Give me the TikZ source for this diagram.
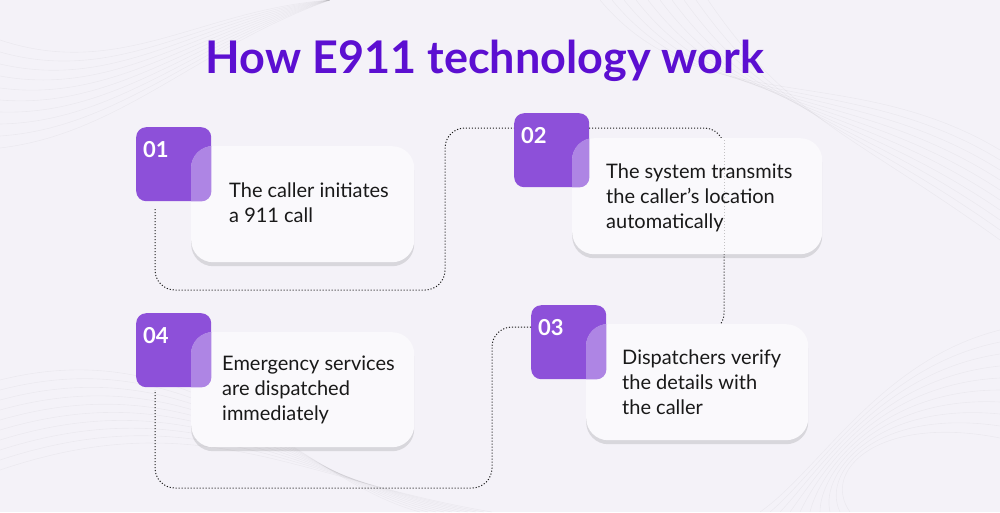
\documentclass[tikz,border=0pt]{standalone}
\usepackage{fontspec}
\setmainfont{Lato}
\usetikzlibrary{shadows,calc}
\definecolor{bg}{HTML}{F4F2F8}
\definecolor{ttl}{HTML}{5C0FD1}
\definecolor{purp}{HTML}{8D50D9}
\definecolor{purpl}{HTML}{AE85E4}
\definecolor{cardc}{HTML}{FAF9FC}
\begin{document}
\begin{tikzpicture}[x=1pt,y=-1pt,
  numbox/.style={fill=purp, rounded corners=10pt, draw=none, minimum width=75pt, minimum height=74pt, anchor=north west, inner sep=0pt},
  cardbox/.style={fill=cardc, rounded corners=22pt, draw=none, anchor=north west, inner sep=0pt,
     drop shadow={shadow xshift=0pt, shadow yshift=-4pt, opacity=0.16, fill=black!70}},
  numtxt/.style={text=white, font=\fontsize{22}{26}\selectfont\bfseries, anchor=base west, inner sep=0pt},
  cardtxt/.style={text=black!90, font=\fontsize{20}{25}\selectfont, align=left, anchor=base west, inner sep=0pt},
  conn/.style={draw=black!90, dash pattern=on 1.1pt off 1.9pt, line width=1pt, rounded corners=20pt},
  bgline/.style={draw=black, opacity=0.035, line width=0.6pt}
]
\fill[bg] (0,0) rectangle (1000,512);
\useasboundingbox (0,0) rectangle (1000,512);
% faint background curves
\foreach \i in {0,...,9}{
  \draw[bgline] (600+\i*12,0) .. controls (700+\i*10,120) and (850,60+\i*8) .. (1000,150+\i*10);
  \draw[bgline] (0,40+\i*12) .. controls (120,80+\i*6) and (200,10+\i*4) .. (330,0);
  \draw[bgline] (0,380+\i*10) .. controls (200,330+\i*8) and (300,480) .. (420+\i*8,512);
  \draw[bgline] (1000,330+\i*12) .. controls (880,360+\i*6) and (820,470) .. (760+\i*10,512);
}
% title
\node[text=ttl, font=\fontsize{45}{50}\selectfont\bfseries, anchor=base, inner sep=0pt] (title) at (485,73) {How E911 technology work};

% number boxes
\node[numbox] (n1) at (136,127) {};
\node[numbox] (n2) at (514,113) {};
\node[numbox] (n3) at (531,305) {};
\node[numbox] (n4) at (136,313) {};

% connector coordinates
\coordinate (s1) at (155,209);
\coordinate (e1) at (514,128);
\coordinate (s2) at (589,128);
\coordinate (e2) at (606,333);
\coordinate (s3) at (531,327);
\coordinate (e3) at (155,390);

\draw[conn] (s1) -- (155,290) -- (445,290) -- (445,128) -- (e1);
\draw[conn] (s2) -- (724,128) -- (724,333) -- (e2);
\draw[conn] (s3) -- (492,327) -- (492,488) -- (155,488) -- (e3);

% cards
\node[cardbox, minimum width=223pt, minimum height=116pt] (c1) at (191,146) {};
\node[cardbox, minimum width=250pt, minimum height=116pt] (c2) at (572,138) {};
\node[cardbox, minimum width=222pt, minimum height=116pt] (c3) at (586,324) {};
\node[cardbox, minimum width=223pt, minimum height=115pt] (c4) at (191,332) {};

% glass overlap
\foreach \c/\n in {c1/n1,c2/n2,c3/n3,c4/n4}{
  \begin{scope}
    \clip[rounded corners=22pt] (\c.north west) rectangle (\c.south east);
    \fill[purpl, rounded corners=10pt] (\n.north west) rectangle (\n.south east);
  \end{scope}
}
% faint line seen through card 2
\begin{scope}
  \clip[rounded corners=22pt] (c2.north west) rectangle (c2.south east);
  \draw[draw=black, dash pattern=on 1.1pt off 1.9pt, line width=1pt, opacity=0.22] (724,128) -- (724,300);
\end{scope}

% numbers
\node[numtxt] (l1) at (143,157) {01};
\node[numtxt] (l2) at (521,143) {02};
\node[numtxt] (l3) at (538,335) {03};
\node[numtxt] (l4) at (143,343) {04};

% texts (base anchor = baseline of last line)
\node[cardtxt] (t1) at (229,222) {The caller initiates\\a 911 call};
\node[cardtxt] (t2) at (606,228) {The system transmits\\the caller’s location\\automatically};
\node[cardtxt] (t3) at (622,414) {Dispatchers verify\\the details with\\the caller};
\node[cardtxt] (t4) at (222,420) {Emergency services\\are dispatched\\immediately};
\end{tikzpicture}
\end{document}
